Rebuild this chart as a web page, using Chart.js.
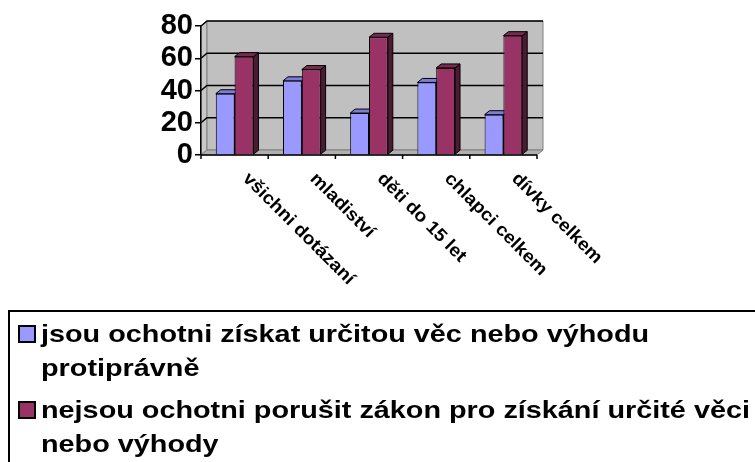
<!DOCTYPE html>
<html lang="cs">
<head>
<meta charset="utf-8">
<script src="https://cdn.jsdelivr.net/npm/chart.js@4.4.0/dist/chart.umd.min.js"></script>
<style>
  html, body { margin: 0; padding: 0; background: #fff; }
  #obal { position: relative; width: 755px; height: 462px; overflow: hidden; }
  #graf { position: absolute; left: 0; top: 0; }
  #legenda {
    position: absolute; left: 8px; top: 310px; width: 800px; height: 200px;
    border: 2px solid #000; box-sizing: border-box; padding-top: 5px;
    font-family: "Liberation Sans", Arial, sans-serif; font-weight: bold; font-size: 24px;
    line-height: 34px; color: #000;
  }
  .polozka { position: relative; padding-left: 31px; margin-bottom: 8px; }
  .text { display: inline-block; transform: scaleX(1.2); transform-origin: left top; white-space: nowrap; }
  .ctverec {
    position: absolute; left: 8px; top: 8px; width: 14px; height: 14px;
    border: 2px solid #000;
  }
</style>
</head>
<body>
<div id="obal">
  <canvas id="graf" width="755" height="462"></canvas>
  <div id="legenda"></div>
</div>
<script>
const kategorie = ["všichni dotázaní", "mladiství", "děti do 15 let", "chlapci celkem", "dívky celkem"];
const ochotni = [38, 46, 26, 45, 25];
const neochotni = [61, 53, 73, 54, 74];
const nazvySerii = [
  ["jsou ochotni získat určitou věc nebo výhodu", "protiprávně"],
  ["nejsou ochotni porušit zákon pro získání určité věci", "nebo výhody"]
];
const barvyCelo = ["#9999ff", "#993366"];
const barvyVrch = ["#7c7cd9", "#7a2952"];
const barvyBok = ["#4d4d80", "#4d1a33"];

const hloubkaX = 6, hloubkaY = -5; // posun zadni steny
const sloupX = 5, sloupY = -4;      // hloubka sloupcu

function mnohouhelnik(ctx, body, vypln, obrys, sirka) {
  ctx.beginPath();
  ctx.moveTo(body[0][0], body[0][1]);
  for (let i = 1; i < body.length; i++) ctx.lineTo(body[i][0], body[i][1]);
  ctx.closePath();
  if (vypln) { ctx.fillStyle = vypln; ctx.fill(); }
  if (obrys) { ctx.strokeStyle = obrys; ctx.lineWidth = sirka || 1; ctx.stroke(); }
}

const prostor3d = {
  id: "prostor3d",
  beforeDraw(chart) {
    const ctx = chart.ctx;
    const a = chart.chartArea;
    const y = chart.scales.y;
    const L = a.left, R = a.right, T = a.top, B = a.bottom;
    ctx.save();
    // leva stena
    mnohouhelnik(ctx, [[L, T], [L + hloubkaX, T + hloubkaY], [L + hloubkaX, B + hloubkaY], [L, B]], "#c8c8c8", "#808080", 1);
    // zadni stena
    mnohouhelnik(ctx, [[L + hloubkaX, T + hloubkaY], [R + hloubkaX, T + hloubkaY], [R + hloubkaX, B + hloubkaY], [L + hloubkaX, B + hloubkaY]], "#c0c0c0", "#808080", 1);
    // podlaha
    mnohouhelnik(ctx, [[L, B], [R, B], [R + hloubkaX, B + hloubkaY], [L + hloubkaX, B + hloubkaY]], "#b0b0b0", "#808080", 1);
    // mrizka
    ctx.strokeStyle = "#000";
    ctx.lineWidth = 1.5;
    y.ticks.forEach(t => {
      if (t.value === 0) return;
      const py = y.getPixelForValue(t.value);
      ctx.beginPath();
      ctx.moveTo(L, py);
      ctx.lineTo(L + hloubkaX, py + hloubkaY);
      ctx.lineTo(R + hloubkaX, py + hloubkaY);
      ctx.stroke();
    });
    // vrchy a boky sloupcu
    chart.data.datasets.forEach((ds, di) => {
      chart.getDatasetMeta(di).data.forEach(el => {
        const p = el.getProps(["x", "y", "base", "width"], true);
        const l = p.x - p.width / 2, r = p.x + p.width / 2;
        mnohouhelnik(ctx, [[r, p.y], [r + sloupX, p.y + sloupY], [r + sloupX, p.base + sloupY], [r, p.base]], barvyBok[di], "#000", 1);
        mnohouhelnik(ctx, [[l, p.y], [r, p.y], [r + sloupX, p.y + sloupY], [l + sloupX, p.y + sloupY]], barvyVrch[di], "#000", 1);
      });
    });
    ctx.restore();
  },
  afterDraw(chart) {
    const ctx = chart.ctx;
    const a = chart.chartArea;
    const x = chart.scales.x;
    ctx.save();
    // predni hrana a znacky kategorii
    ctx.strokeStyle = "#000";
    ctx.lineWidth = 1.5;
    ctx.beginPath();
    ctx.moveTo(a.left, a.bottom);
    ctx.lineTo(a.right, a.bottom);
    ctx.stroke();
    const krok = (a.right - a.left) / kategorie.length;
    for (let i = 0; i <= kategorie.length; i++) {
      const px = a.left + krok * i;
      ctx.beginPath();
      ctx.moveTo(px, a.bottom);
      ctx.lineTo(px, a.bottom + 4);
      ctx.stroke();
    }
    // popisky kategorii
    ctx.fillStyle = "#000";
    ctx.font = "bold 18px 'Liberation Sans', Arial, sans-serif";
    ctx.textAlign = "left";
    ctx.textBaseline = "middle";
    kategorie.forEach((k, i) => {
      const cx = x.getPixelForValue(i);
      ctx.save();
      ctx.translate(cx + 11, 176);
      ctx.rotate(Math.PI / 4);
      ctx.scale(1.07, 1);
      ctx.fillText(k, 0, 0);
      ctx.restore();
    });
    ctx.restore();
  }
};

new Chart(document.getElementById("graf").getContext("2d"), {
  type: "bar",
  data: {
    labels: kategorie,
    datasets: [
      {
        label: nazvySerii[0].join(" "),
        data: ochotni,
        backgroundColor: barvyCelo[0],
        borderColor: "#000",
        borderWidth: 1
      },
      {
        label: nazvySerii[1].join(" "),
        data: neochotni,
        backgroundColor: barvyCelo[1],
        borderColor: "#000",
        borderWidth: 1
      }
    ]
  },
  options: {
    responsive: false,
    animation: false,
    layout: { padding: { left: 0, top: 26, right: 218, bottom: 307 } },
    plugins: {
      legend: { display: false },
      tooltip: { enabled: false }
    },
    datasets: {
      bar: { categoryPercentage: 0.56, barPercentage: 1 }
    },
    scales: {
      x: { display: false },
      y: {
        min: 0,
        max: 80,
        afterFit: scale => { scale.width = 201; },
        ticks: {
          stepSize: 20,
          autoSkip: false,
          padding: 2,
          color: "#000",
          font: { family: "'Liberation Sans', Arial, sans-serif", size: 29, weight: "bold" }
        },
        grid: { drawOnChartArea: false, drawTicks: true, tickLength: 6, color: "#000", lineWidth: 1.5 },
        border: { display: true, color: "#000", width: 1.5 }
      }
    }
  },
  plugins: [prostor3d]
});

// legenda jako HTML, texty zalomene jako v predloze
const legenda = document.getElementById("legenda");
nazvySerii.forEach((radky, i) => {
  const polozka = document.createElement("div");
  polozka.className = "polozka";
  const ctverec = document.createElement("span");
  ctverec.className = "ctverec";
  ctverec.style.background = barvyCelo[i];
  polozka.appendChild(ctverec);
  const text = document.createElement("span");
  text.className = "text";
  radky.forEach((r, j) => {
    if (j > 0) text.appendChild(document.createElement("br"));
    text.appendChild(document.createTextNode(r));
  });
  polozka.appendChild(text);
  legenda.appendChild(polozka);
});
</script>
</body>
</html>
